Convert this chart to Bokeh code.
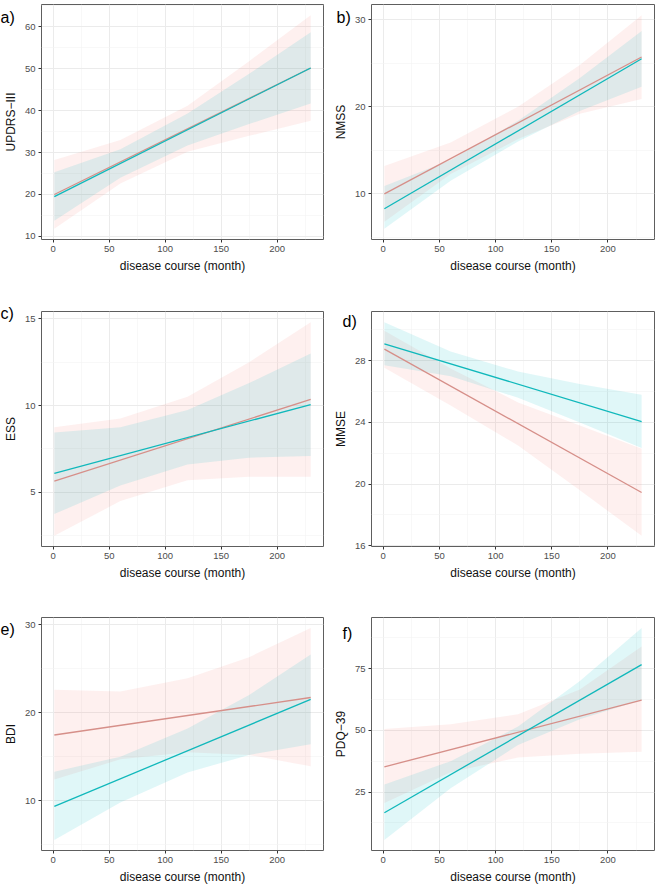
from bokeh.plotting import figure
from bokeh.layouts import column, row
from bokeh.models import FixedTicker, Label
from bokeh.embed import file_html
from bokeh.resources import INLINE

# ---- data ----
x_pts = [1, 60, 120, 175, 230]

# a) UPDRS-III
a_red = [20.0, 27.8, 35.7, 42.9, 50.2]
a_red_lo = [11.8, 22.6, 30.2, 34.0, 37.6]
a_red_hi = [28.2, 33.0, 41.2, 51.8, 62.8]
a_cyan = [19.5, 27.4, 35.5, 42.8, 50.2]
a_cyan_lo = [13.7, 24.0, 31.7, 36.8, 41.7]
a_cyan_hi = [25.3, 30.8, 39.3, 48.8, 58.7]

# b) NMSS
b_red = [10.0, 14.1, 18.2, 22.0, 25.7]
b_red_lo = [6.8, 12.3, 16.3, 19.2, 20.9]
b_red_hi = [13.2, 15.9, 20.0, 24.8, 30.5]
b_cyan = [8.3, 12.7, 17.2, 21.4, 25.5]
b_cyan_lo = [6.0, 11.5, 16.0, 19.5, 22.3]
b_cyan_hi = [10.9, 13.9, 18.4, 23.3, 28.7]

# c) ESS
c_red = [5.65, 6.85, 8.07, 9.2, 10.35]
c_red_lo = [2.5, 4.5, 5.7, 5.9, 5.9]
c_red_hi = [8.75, 9.25, 10.5, 12.5, 14.8]
c_cyan = [6.1, 7.12, 8.16, 9.11, 10.06]
c_cyan_lo = [3.75, 5.4, 6.6, 7.0, 7.1]
c_cyan_hi = [8.45, 8.75, 9.75, 11.3, 13.0]

# d) MMSE
d_red = [28.75, 26.36, 23.92, 21.69, 19.46]
d_red_lo = [27.55, 25.1, 22.5, 19.6, 16.65]
d_red_hi = [29.95, 27.5, 25.3, 23.8, 22.3]
d_cyan = [29.1, 27.8, 26.48, 25.27, 24.06]
d_cyan_lo = [27.7, 27.0, 25.6, 24.0, 22.35]
d_cyan_hi = [30.5, 28.6, 27.3, 26.5, 25.8]

# e) BDI
e_red = [17.46, 18.56, 19.67, 20.70, 21.72]
e_red_lo = [12.4, 14.7, 15.5, 15.2, 13.9]
e_red_hi = [22.6, 22.4, 23.9, 26.3, 29.6]
e_cyan = [9.36, 12.49, 15.67, 18.59, 21.5]
e_cyan_lo = [5.55, 9.8, 13.2, 15.2, 16.4]
e_cyan_hi = [13.3, 15.0, 18.2, 22.0, 26.6]

# f) PDQ-39
f_red = [35.2, 42.2, 49.2, 55.7, 62.2]
f_red_lo = [20.5, 33.0, 39.0, 40.5, 41.3]
f_red_hi = [50.5, 52.5, 56.5, 66.5, 83.9]
f_cyan = [16.6, 32.06, 47.8, 62.2, 76.6]
f_cyan_lo = [5.6, 26.5, 44.0, 54.5, 62.3]
f_cyan_hi = [28.0, 37.5, 51.5, 70.0, 91.4]

x_ticks = [0, 50, 100, 150, 200]
x_minor = [25, 75, 125, 175, 225]

a_ticks = [10, 20, 30, 40, 50, 60]
a_minor = [15, 25, 35, 45, 55, 65]
b_ticks = [10, 20, 30]
b_minor = [5, 15, 25]
c_ticks = [5, 10, 15]
c_minor = [2.5, 7.5, 12.5]
d_ticks = [16, 20, 24, 28]
d_minor = [18, 22, 26, 30]
e_ticks = [10, 20, 30]
e_minor = [5, 15, 25]
f_ticks = [25, 50, 75]
f_minor = [12.5, 37.5, 62.5, 87.5]

x_title = "disease course (month)"

RED_FILL = "#F8766D"
CYAN_FILL = "#00BFC4"
RED_LINE = "#D68F89"
CYAN_LINE = "#10B8BB"
FONT = "Liberation Sans"


def panel(tag, ylab, yticks, yminor, red, red_lo, red_hi, cyan, cyan_lo, cyan_hi,
          width, height, bl, br, bt, bb, tag_x, tag_y, tag_side):
    lo = min(min(red_lo), min(cyan_lo))
    hi = max(max(red_hi), max(cyan_hi))
    pad = 0.05 * (hi - lo)
    xpad = 0.05 * (x_pts[-1] - x_pts[0])
    p = figure(width=width, height=height, output_backend="svg", toolbar_location=None,
               x_range=(x_pts[0] - xpad, x_pts[-1] + xpad), y_range=(lo - pad, hi + pad),
               min_border_left=bl, min_border_right=br, min_border_top=bt, min_border_bottom=bb)
    p.background_fill_color = "white"
    p.border_fill_color = "white"
    p.outline_line_color = "#5E5E5E"
    p.outline_line_width = 1

    p.varea(x=x_pts, y1=red_lo, y2=red_hi, fill_color=RED_FILL, fill_alpha=0.11)
    p.varea(x=x_pts, y1=cyan_lo, y2=cyan_hi, fill_color=CYAN_FILL, fill_alpha=0.12)
    p.line(x=[x_pts[0], x_pts[-1]], y=[red[0], red[-1]], line_color=RED_LINE, line_width=1.3)
    p.line(x=[x_pts[0], x_pts[-1]], y=[cyan[0], cyan[-1]], line_color=CYAN_LINE, line_width=1.3)

    p.xaxis.ticker = FixedTicker(ticks=x_ticks, minor_ticks=x_minor)
    p.yaxis.ticker = FixedTicker(ticks=yticks, minor_ticks=yminor)
    for ax in (p.xaxis[0], p.yaxis[0]):
        ax.axis_line_color = None
        ax.major_tick_out = 3
        ax.major_tick_in = 0
        ax.major_tick_line_color = "#333333"
        ax.minor_tick_line_color = None
        ax.major_label_text_font = FONT
        ax.major_label_text_font_size = "9.5px"
        ax.major_label_text_color = "#4D4D4D"
        ax.major_label_standoff = 2
        ax.axis_label_text_font = FONT
        ax.axis_label_text_font_size = "12px"
        ax.axis_label_text_font_style = "normal"
        ax.axis_label_text_color = "#111111"
        ax.axis_label_standoff = 4
    p.xaxis.axis_label = x_title
    p.yaxis.axis_label = ylab

    for g in (p.xgrid[0], p.ygrid[0]):
        g.grid_line_color = "#EBEBEB"
        g.grid_line_width = 1
        g.minor_grid_line_color = "#F4F4F4"
        g.minor_grid_line_width = 0.6

    # panel tag: placed in a side panel so it is not clipped to the frame
    p.add_layout(Label(x=tag_x, y=tag_y, x_units="canvas", y_units="canvas", text=tag,
                       text_font=FONT, text_font_size="16px", text_color="#000000",
                       text_baseline="alphabetic", text_align="left"), tag_side)
    return p


# row 1: height 293 (top 4, frame 235, bottom 54); row 2: 307 (top 18); row 3: 286 (top 17)
pa = panel("a)", "UPDRS\u2212III", a_ticks, a_minor, a_red, a_red_lo, a_red_hi,
           a_cyan, a_cyan_lo, a_cyan_hi, 329, 293, 37, 6, 4, 54, 0, 16.6, "below")
pb = panel("b)", "NMSS", b_ticks, b_minor, b_red, b_red_lo, b_red_hi,
           b_cyan, b_cyan_lo, b_cyan_hi, 330, 293, 42, 5, 4, 54, 7, 16.6, "below")
pc = panel("c)", "ESS", c_ticks, c_minor, c_red, c_red_lo, c_red_hi,
           c_cyan, c_cyan_lo, c_cyan_hi, 329, 307, 37, 6, 18, 54, 0, 20.3, "above")
pd = panel("d)", "MMSE", d_ticks, d_minor, d_red, d_red_lo, d_red_hi,
           d_cyan, d_cyan_lo, d_cyan_hi, 330, 307, 42, 5, 18, 54, 13, 28, "above")
pe = panel("e)", "BDI", e_ticks, e_minor, e_red, e_red_lo, e_red_hi,
           e_cyan, e_cyan_lo, e_cyan_hi, 329, 286, 37, 6, 17, 34, 0, 29, "above")
pf = panel("f)", "PDQ\u221239", f_ticks, f_minor, f_red, f_red_lo, f_red_hi,
           f_cyan, f_cyan_lo, f_cyan_hi, 330, 286, 42, 5, 17, 34, 13, 33, "above")

layout = column(row(pa, pb), row(pc, pd), row(pe, pf))
open("out.html", "w").write(file_html(layout, INLINE))
